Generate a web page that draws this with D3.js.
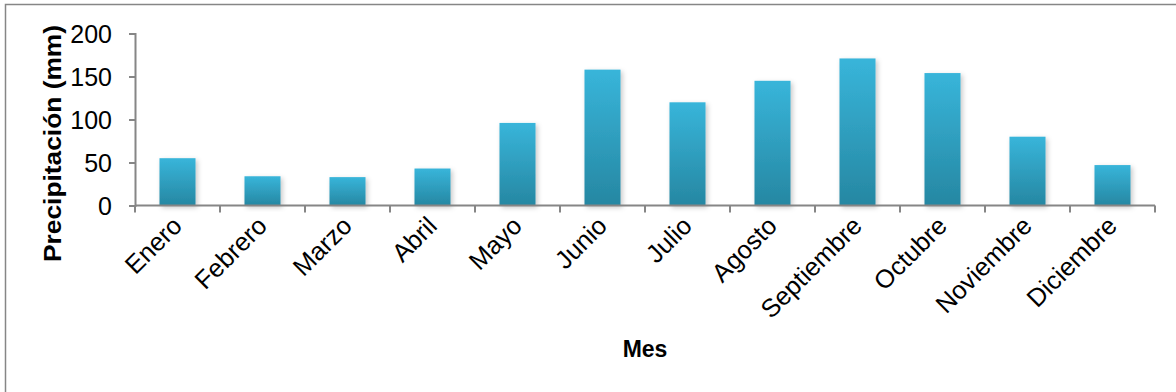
<!DOCTYPE html>
<html>
<head>
<meta charset="utf-8">
<script src="https://cdn.jsdelivr.net/npm/d3@7"></script>
<style>
  html, body { margin: 0; padding: 0; background: #fff; }
  svg { display: block; font-family: "Liberation Sans", Arial, sans-serif; }
</style>
</head>
<body>
<svg id="chart" width="1176" height="392"></svg>
<script>
// Monthly precipitation (mm)
const months = ["Enero", "Febrero", "Marzo", "Abril", "Mayo", "Junio",
                "Julio", "Agosto", "Septiembre", "Octubre", "Noviembre", "Diciembre"];
const precipitation = [55, 34, 33, 43, 96, 158, 120, 145, 171, 154, 80, 47];
const yTicks = [0, 50, 100, 150, 200];

const svg = d3.select("#chart");
const axisColor = "#868686";

// chart frame
svg.append("rect")
  .attr("x", 5.5).attr("y", 4.5)
  .attr("width", 1200).attr("height", 420)
  .attr("fill", "none")
  .attr("stroke", axisColor)
  .attr("stroke-width", 1.5);

const defs = svg.append("defs");
const grad = defs.append("linearGradient")
  .attr("id", "barFill").attr("x1", 0).attr("y1", 0).attr("x2", 0).attr("y2", 1);
grad.append("stop").attr("offset", "0%").attr("stop-color", "#38B5DA");
grad.append("stop").attr("offset", "100%").attr("stop-color", "#2687A2");

const shadow = defs.append("filter").attr("id", "barShadow")
  .attr("x", "-30%").attr("y", "-10%").attr("width", "160%").attr("height", "130%");
shadow.append("feDropShadow")
  .attr("dx", 2).attr("dy", 2).attr("stdDeviation", 2.5)
  .attr("flood-color", "#000").attr("flood-opacity", 0.22);

const x = d3.scaleBand()
  .domain(months)
  .range([135, 1155])
  .paddingInner(0.576)
  .paddingOuter(0.288);

const y = d3.scaleLinear()
  .domain([0, 200])
  .range([205.5, 33.5]);

// bars
svg.append("g")
  .selectAll("rect")
  .data(precipitation)
  .join("rect")
  .attr("x", (d, i) => x(months[i]))
  .attr("y", d => y(d))
  .attr("width", x.bandwidth())
  .attr("height", d => y(0) - y(d))
  .attr("fill", "url(#barFill)")
  .attr("filter", "url(#barShadow)");

// y axis
const yAxis = svg.append("g")
  .attr("transform", `translate(${x.range()[0]},0)`)
  .call(d3.axisLeft(y).tickValues(yTicks).tickSize(6).tickPadding(17));
yAxis.select(".domain").attr("stroke", axisColor).attr("stroke-width", 2);
yAxis.selectAll(".tick line").attr("stroke", axisColor).attr("stroke-width", 2);
yAxis.selectAll(".tick text")
  .attr("fill", "#000")
  .style("font-size", "25px")
  .attr("dy", "0.36em");

// x axis: baseline and category boundary ticks
const xAxis = svg.append("g").attr("transform", `translate(0,${y(0)})`);
xAxis.append("line")
  .attr("x1", x.range()[0]).attr("x2", x.range()[1])
  .attr("stroke", axisColor).attr("stroke-width", 2);
const boundaries = months.map(m => x(m) - x.step() * x.paddingInner() / 2)
  .concat([x.range()[1]]);
xAxis.selectAll("line.tick")
  .data(boundaries)
  .join("line")
  .attr("class", "tick")
  .attr("x1", d => d).attr("x2", d => d)
  .attr("y1", 0).attr("y2", 7)
  .attr("stroke", axisColor).attr("stroke-width", 2);

// rotated month labels
svg.append("g")
  .selectAll("text")
  .data(months)
  .join("text")
  .attr("text-anchor", "end")
  .attr("transform", d => `translate(${x(d) + x.bandwidth() / 2 + 6},${y(0) + 22}) rotate(-45)`)
  .style("font-size", "25.5px")
  .attr("fill", "#000")
  .text(d => d);

// axis titles
svg.append("text")
  .attr("x", (x.range()[0] + x.range()[1]) / 2)
  .attr("y", 357)
  .attr("text-anchor", "middle")
  .style("font-size", "23px")
  .style("font-weight", "bold")
  .text("Mes");

svg.append("text")
  .attr("transform", `translate(61,${(y(0) + y(200)) / 2 + 24}) rotate(-90)`)
  .attr("text-anchor", "middle")
  .style("font-size", "23px")
  .style("font-weight", "bold")
  .attr("textLength", 237)
  .attr("lengthAdjust", "spacingAndGlyphs")
  .text("Precipitación (mm)");
</script>
</body>
</html>
